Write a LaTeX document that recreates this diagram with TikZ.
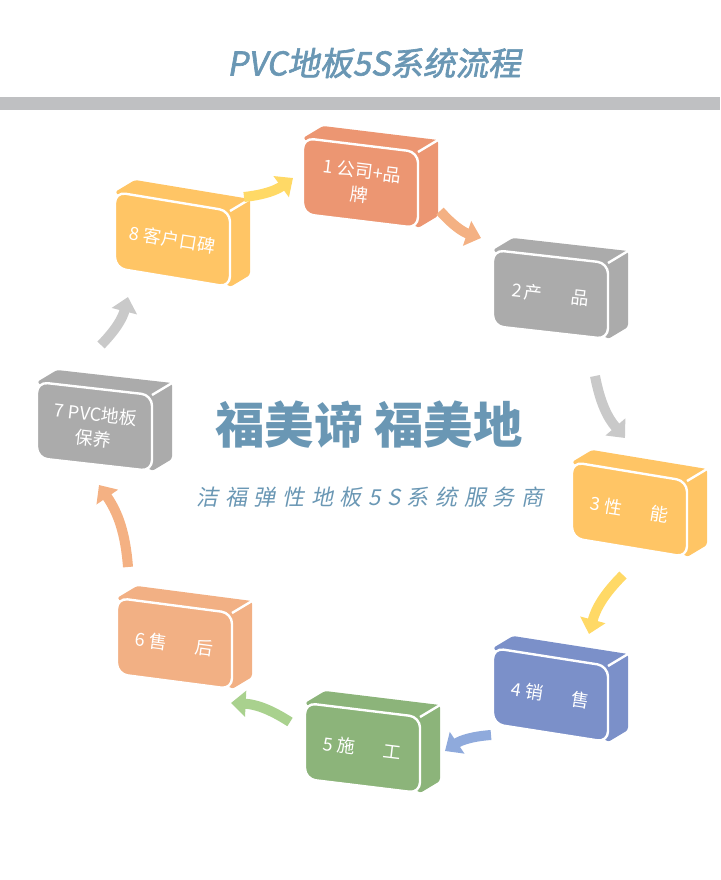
\documentclass[tikz,border=0pt]{standalone}
\usepackage{fontspec}
\setmainfont{Noto Sans CJK SC}
\newfontfamily\titlefont[FakeSlant=0.18,FakeBold=2]{Noto Sans CJK SC}
\newfontfamily\lemafont[FakeSlant=0.2,LetterSpace=30]{Noto Sans CJK SC}
\usetikzlibrary{arrows.meta}
\definecolor{azulTitulo}{HTML}{6A97B4}
\definecolor{grisBarra}{HTML}{BFC0C2}
\definecolor{caja1}{HTML}{EC9672}
\definecolor{caja2}{HTML}{ABABAB}
\definecolor{caja3}{HTML}{FFC565}
\definecolor{caja4}{HTML}{7B90C9}
\definecolor{caja5}{HTML}{8CB47A}
\definecolor{caja6}{HTML}{F2B084}
\definecolor{caja7}{HTML}{ABABAB}
\definecolor{caja8}{HTML}{FFC565}
\definecolor{flAmarilla}{HTML}{FFD966}
\definecolor{flNaranja}{HTML}{F4B183}
\definecolor{flGris}{HTML}{C9C9C9}
\definecolor{flAzul}{HTML}{8FAADC}
\definecolor{flVerde}{HTML}{A9D18E}
\begin{document}
\begin{tikzpicture}[x=0.75pt, y=-0.75pt, line join=round,
    cara/.style={draw=white, line width=1.8pt},
    flecha/.style={line width=7.5pt, -{Triangle[width=19pt,length=11pt]}},
    etiqueta/.style={text=white, font=\fontsize{13.5}{18}\selectfont, align=center}]
  \useasboundingbox (0,0) rectangle (720,880);
  % titulo y barra
  \node[text=azulTitulo, font=\titlefont\fontsize{24.5}{28}\selectfont] (titulo) at (374,63) {PVC地板5S系统流程};
  \fill[grisBarra] (0,97) rectangle (720,110);
  % las ocho cajas
  \foreach \n/\x/\y/\dy/\txt in {1/303/138/14/{1 公司+品\\牌}, 2/493/250/13/{2\,产\hspace{1.6em}品},
      3/572/462/19/{3 性\hspace{1.6em}能}, 4/493/648/18/{4 销\hspace{1.6em}售},
      5/305/703/14/{5 施\hspace{1.6em}工}, 6/117/598/15/{6 售\hspace{1.6em}后},
      7/37/382/13/{7 PVC地板\\保养}, 8/115/192/19/{8 客户口碑}} {
    \fill[caja\n, rounded corners=2] (\x,\y) -- (\x+20,\y-12) -- (\x+135,\y+\dy-12)
      -- (\x+135,\y+\dy+64) -- (\x+115,\y+\dy+76) -- cycle;
    \draw[white, line width=1.8pt] (\x+115,\y+\dy) -- (\x+135,\y+\dy-12);
    \filldraw[fill=caja\n, cara, rounded corners=8] (\x,\y) -- (\x+115,\y+\dy)
      -- (\x+115,\y+\dy+76) -- (\x,\y+76) -- cycle;
    \node[etiqueta, rotate={-atan(\dy/115)}] (b\n) at (\x+57.5,\y+\dy/2+38) {\txt};
  }
  % flechas entre cajas
  \coordinate (f1a) at (244,197); \coordinate (f1b) at (293,178);
  \coordinate (f2a) at (440,211); \coordinate (f2b) at (481,238);
  \coordinate (f3a) at (595,376); \coordinate (f3b) at (625,438);
  \coordinate (f4a) at (623,575); \coordinate (f4b) at (589,634);
  \coordinate (f5a) at (491,735); \coordinate (f5b) at (445,751);
  \coordinate (f6a) at (290,722); \coordinate (f6b) at (231,703);
  \coordinate (f7a) at (128,567); \coordinate (f7b) at (99,485);
  \coordinate (f8a) at (101,345); \coordinate (f8b) at (128,297);
  \draw[flecha, flAmarilla] (f1a) to[bend right=15] (f1b);
  \draw[flecha, flNaranja] (f2a) to[bend right=15] (f2b);
  \draw[flecha, flGris] (f3a) to[bend right=15] (f3b);
  \draw[flecha, flAmarilla] (f4a) to[bend right=15] (f4b);
  \draw[flecha, flAzul] (f5a) to[bend right=15] (f5b);
  \draw[flecha, flVerde] (f6a) to[bend right=15] (f6b);
  \draw[flecha, flNaranja] (f7a) to[bend right=15] (f7b);
  \draw[flecha, flGris] (f8a) to[bend right=15] (f8b);
  % texto del centro
  \node[text=azulTitulo, font=\bfseries\fontsize{37}{40}\selectfont] (marca) at (369,425) {福美谛 福美地};
  \node[text=azulTitulo, font=\lemafont\fontsize{16.5}{19}\selectfont] (lema) at (370,497) {洁福弹性地板5S系统服务商};
\end{tikzpicture}
\end{document}
